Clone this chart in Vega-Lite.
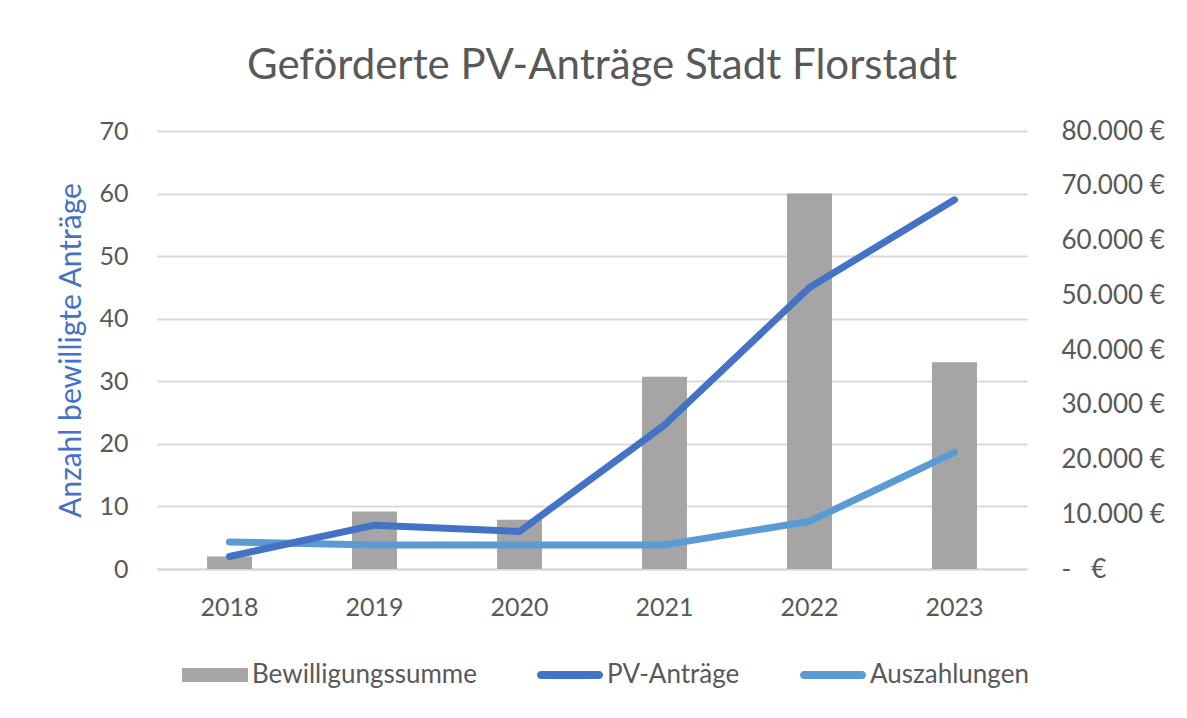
{
  "$schema": "https://vega.github.io/schema/vega-lite/v6.json",
  "autosize": {"type": "none"},
  "width": 870,
  "height": 438,
  "padding": {"left": 157, "top": 131, "right": 160, "bottom": 149},
  "background": "white",
  "title": {
    "text": "Geförderte PV-Anträge Stadt Florstadt",
    "font": "Lato",
    "fontSize": 42,
    "fontWeight": "normal",
    "color": "#595959",
    "anchor": "middle",
    "offset": 30,
    "dx": 10
  },
  "data": {
    "values": [
      {"Jahr": "2018", "Bewilligungssumme": 2300, "PV": 2, "Auszahlungen": 4930},
      {"Jahr": "2019", "Bewilligungssumme": 10500, "PV": 7, "Auszahlungen": 4400},
      {"Jahr": "2020", "Bewilligungssumme": 9000, "PV": 6, "Auszahlungen": 4400},
      {"Jahr": "2021", "Bewilligungssumme": 35100, "PV": 23, "Auszahlungen": 4400},
      {"Jahr": "2022", "Bewilligungssumme": 68600, "PV": 45, "Auszahlungen": 8700},
      {"Jahr": "2023", "Bewilligungssumme": 37750, "PV": 59, "Auszahlungen": 21300}
    ]
  },
  "config": {
    "view": {"stroke": null},
    "axis": {
      "labelFont": "Lato",
      "labelFontSize": 25,
      "labelColor": "#595959",
      "titleFont": "Lato",
      "ticks": false,
      "domain": false
    }
  },
  "encoding": {
    "x": {
      "field": "Jahr",
      "type": "ordinal",
      "scale": {"paddingInner": 0.69, "paddingOuter": 0.345},
      "axis": {
        "title": null,
        "labelAngle": 0,
        "domain": true,
        "domainColor": "#D9D9D9",
        "domainWidth": 2,
        "labelPadding": 26
      }
    }
  },
  "layer": [
    {
      "layer": [
        {
          "mark": {"type": "bar"},
          "encoding": {
            "y": {
              "field": "Bewilligungssumme",
              "type": "quantitative",
              "scale": {"domain": [0, 80000]},
              "axis": {
                "orient": "right",
                "title": null,
                "grid": false,
                "values": [0, 10000, 20000, 30000, 40000, 50000, 60000, 70000, 80000],
                "labelAlign": "left",
                "labelPadding": 34,
                "labelFontSize": 26,
                "labelExpr": "datum.value === 0 ? '-\u00a0\u00a0\u00a0€' : replace(format(datum.value, ','), ',', '.') + '\u00a0€'"
              }
            },
            "color": {
              "datum": "Bewilligungssumme",
              "type": "nominal",
              "scale": {
                "domain": ["Bewilligungssumme", "PV-Anträge", "Auszahlungen"],
                "range": ["#A5A5A5", "#4472C4", "#5B9BD5"]
              },
              "legend": {
                "orient": "none",
                "legendX": 25,
                "legendY": 511,
                "direction": "horizontal",
                "title": null,
                "labelFont": "Lato",
                "labelFontSize": 26,
                "labelColor": "#595959",
                "labelLimit": 0,
                "labelOffset": 4,
                "columnPadding": 60,
                "symbolSize": 4356,
                "symbolStrokeWidth": 0,
                "symbolOpacity": 1,
                "symbolType": {"expr": "datum.value === 'Bewilligungssumme' ? 'M-1,-0.21H1V0.21H-1Z' : 'M-0.88,-0.12H0.88A0.12,0.12 0 0 1 0.88,0.12H-0.88A0.12,0.12 0 0 1 -0.88,-0.12Z'"}
              }
            }
          }
        },
        {
          "mark": {"type": "line", "strokeWidth": 7, "strokeCap": "round", "strokeJoin": "round"},
          "encoding": {
            "y": {"field": "Auszahlungen", "type": "quantitative"},
            "color": {"datum": "Auszahlungen", "type": "nominal"}
          }
        }
      ]
    },
    {
      "mark": {"type": "line", "strokeWidth": 7, "strokeCap": "round", "strokeJoin": "round"},
      "encoding": {
        "y": {
          "field": "PV",
          "type": "quantitative",
          "scale": {"domain": [0, 70]},
          "axis": {
            "orient": "left",
            "title": "Anzahl bewilligte Anträge",
            "titleColor": "#4472C4",
            "titleFontSize": 30,
            "titleFontWeight": "normal",
            "titlePadding": 12,
            "values": [0, 10, 20, 30, 40, 50, 60, 70],
            "labelPadding": 29,
            "grid": true,
            "gridColor": "#D9D9D9",
            "gridWidth": 2
          }
        },
        "color": {"datum": "PV-Anträge", "type": "nominal"}
      }
    }
  ],
  "resolve": {"scale": {"y": "independent"}}
}
